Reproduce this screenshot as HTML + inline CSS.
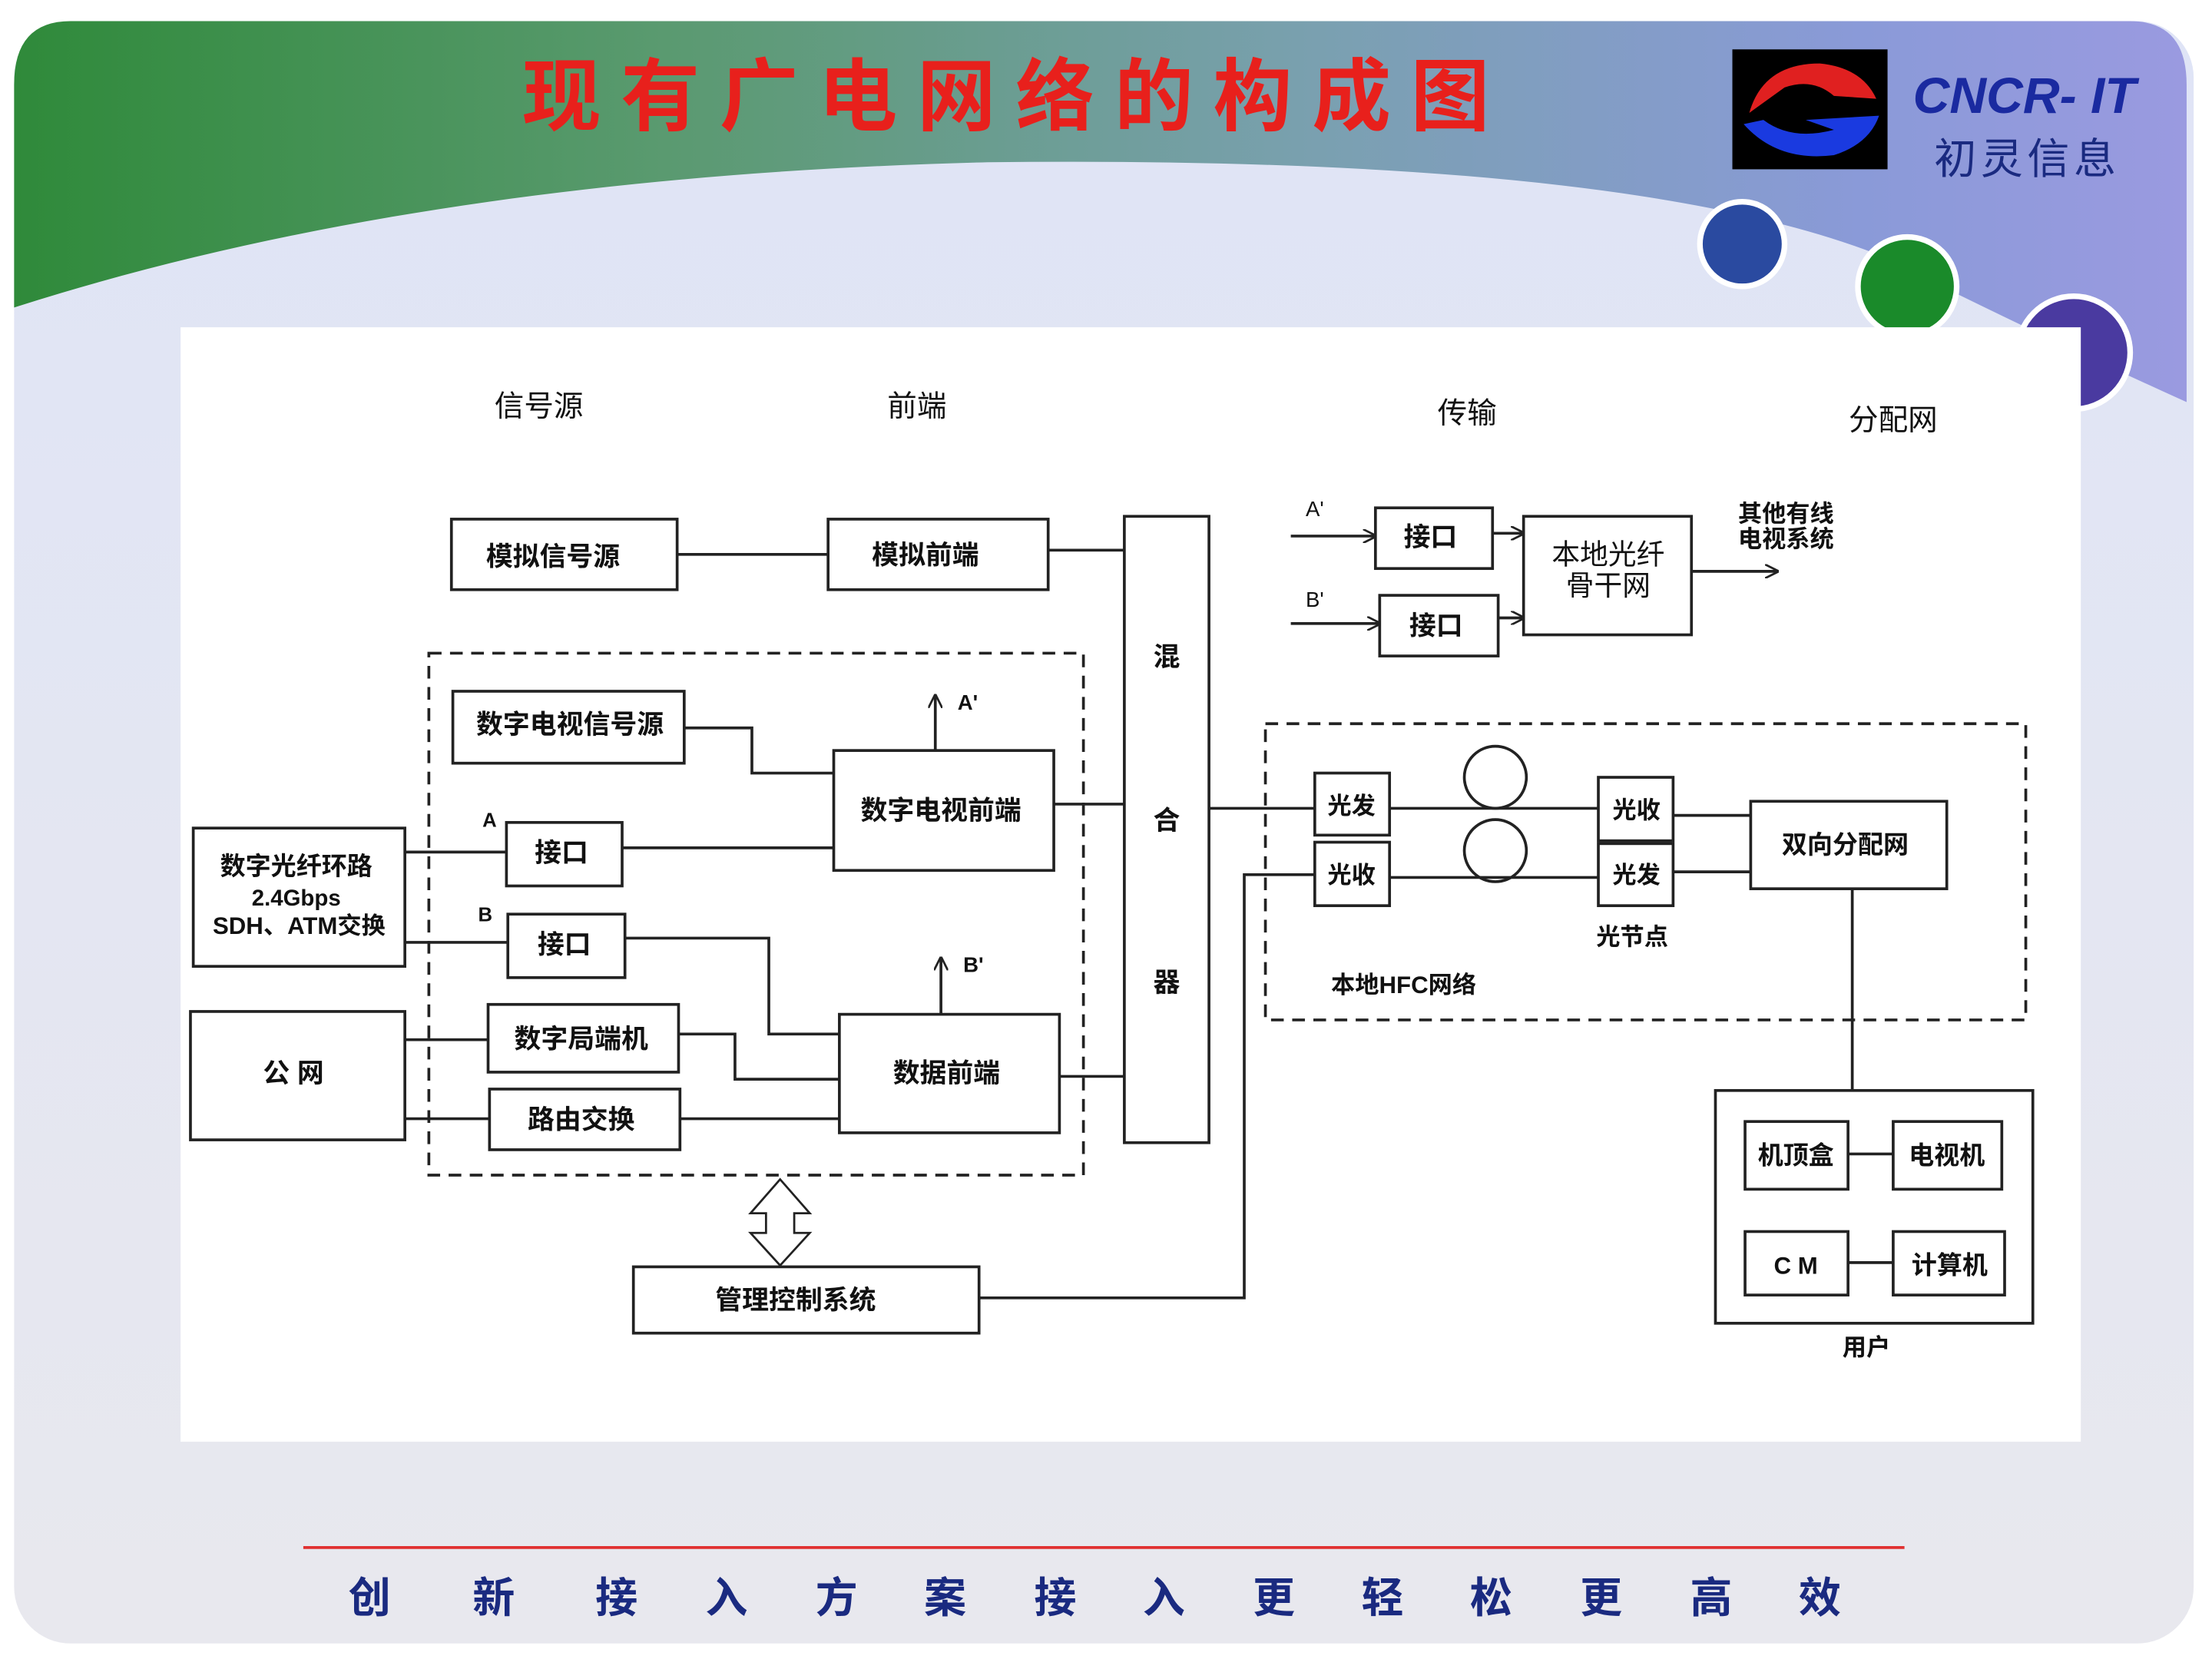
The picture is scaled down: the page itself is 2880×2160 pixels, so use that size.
<!DOCTYPE html>
<html><head><meta charset="utf-8"><style>
html,body{margin:0;padding:0;background:#fff;}
svg{display:block;}
text{font-family:"Liberation Sans","Noto Sans CJK SC",sans-serif;}
</style></head><body>
<svg width="2880" height="2160" viewBox="0 0 1568 1176" xmlns="http://www.w3.org/2000/svg">
<defs>
<linearGradient id="hdr" x1="0" y1="0" x2="1" y2="0">
<stop offset="0" stop-color="#2f8a3a"/><stop offset="0.3" stop-color="#5a9a70"/><stop offset="0.6" stop-color="#7aa0b0"/><stop offset="0.85" stop-color="#8a9ad8"/><stop offset="1" stop-color="#9a9ae0"/>
</linearGradient>
<linearGradient id="bg" x1="0" y1="0" x2="0" y2="1">
<stop offset="0" stop-color="#dfe4f6"/><stop offset="1" stop-color="#e8e8ee"/>
</linearGradient>
<marker id="ar" markerWidth="10" markerHeight="10" refX="9" refY="5" orient="auto" markerUnits="userSpaceOnUse"><path d="M0,0 L10,5 L0,10" fill="none" stroke="#222" stroke-width="1.5"/></marker>
</defs>
<rect x="10" y="15" width="1545" height="1150" rx="40" fill="url(#bg)"/>
<path d="M50,15 H1510 Q1550,15 1550,60 V285 Q1450,240 1330,180 Q1150,110 700,115 Q300,125 10,218 V60 Q10,15 50,15 Z" fill="url(#hdr)"/>
<text x="720" y="88" font-size="56" fill="#e8201c" font-weight="bold" text-anchor="middle" letter-spacing="14" font-family="Liberation Serif,Noto Serif CJK SC,serif">现有广电网络的构成图</text>
<rect x="1228" y="35" width="110" height="85" fill="#000"/>
<path d="M1240,80 Q1250,45 1290,45 Q1320,48 1330,70 L1300,68 Q1285,55 1265,62 Z" fill="#e02020"/>
<path d="M1236,88 Q1260,115 1300,110 Q1325,102 1332,82 L1280,85 L1300,92 Q1270,100 1250,85 Z" fill="#1a3ae0"/>
<text x="1435" y="80" font-size="36" fill="#1a2aa0" font-weight="bold" font-style="italic" text-anchor="middle" font-family="Liberation Serif,serif">CNCR- IT</text>
<text x="1437" y="123" font-size="30" fill="#1a2a80" text-anchor="middle" letter-spacing="3">初灵信息</text>
<circle cx="1235" cy="173" r="30" fill="#2a4aa0" stroke="#fff" stroke-width="4"/>
<circle cx="1352" cy="203" r="35" fill="#1a8a2a" stroke="#fff" stroke-width="4"/>
<circle cx="1470" cy="250" r="40" fill="#4a3aa0" stroke="#fff" stroke-width="4"/>
<rect x="128" y="232" width="1347" height="790" fill="#fff"/>
<line x1="215" y1="1097" x2="1350" y2="1097" stroke="#e03030" stroke-width="2"/>
<g font-size="30" fill="#1a2a80" font-weight="bold" text-anchor="middle">
<text x="262" y="1143">创</text><text x="350" y="1143">新</text><text x="437" y="1143">接</text><text x="515" y="1143">入</text><text x="593" y="1143">方</text><text x="670" y="1143">案</text><text x="748" y="1143">接</text><text x="825" y="1143">入</text><text x="903" y="1143">更</text><text x="980" y="1143">轻</text><text x="1057" y="1143">松</text><text x="1135" y="1143">更</text><text x="1213" y="1143">高</text><text x="1290" y="1143">效</text>
</g>
<g fill="none" stroke="#222" stroke-width="2">
<rect x="320" y="368" width="160" height="50"/><rect x="587" y="368" width="156" height="50"/>
<rect x="797" y="366" width="60" height="444"/>
<rect x="304" y="463" width="464" height="370" stroke-dasharray="9,6"/>
<rect x="321" y="490" width="164" height="51"/><rect x="591" y="532" width="156" height="85"/>
<rect x="137" y="587" width="150" height="98"/>
<rect x="359" y="583" width="82" height="45"/><rect x="360" y="648" width="83" height="45"/>
<rect x="595" y="719" width="156" height="84"/>
<rect x="135" y="717" width="152" height="91"/>
<rect x="346" y="712" width="135" height="48"/><rect x="347" y="772" width="135" height="43"/>
<rect x="449" y="898" width="245" height="47"/>
<rect x="975" y="360" width="83" height="43"/><rect x="978" y="422" width="84" height="43"/>
<rect x="1080" y="366" width="119" height="84"/>
<rect x="897" y="513" width="539" height="210" stroke-dasharray="9,6"/>
<rect x="932" y="548" width="53" height="44"/><rect x="932" y="597" width="53" height="45"/>
<rect x="1133" y="551" width="53" height="45"/><rect x="1133" y="598" width="53" height="44"/>
<circle cx="1060" cy="551" r="22"/><circle cx="1060" cy="603" r="22"/>
<rect x="1241" y="568" width="139" height="62"/>
<rect x="1216" y="773" width="225" height="165"/>
<rect x="1237" y="795" width="73" height="48"/><rect x="1342" y="795" width="77" height="48"/>
<rect x="1237" y="873" width="73" height="45"/><rect x="1342" y="873" width="79" height="45"/>
<polyline points="480,393 587,393"/><polyline points="743,390 797,390"/>
<polyline points="485,516 533,516 533,548 591,548"/>
<polyline points="747,570 797,570"/>
<polyline points="287,604 359,604"/><polyline points="441,601 591,601"/>
<polyline points="287,668 360,668"/><polyline points="443,665 545,665 545,733 595,733"/>
<polyline points="751,763 797,763"/>
<polyline points="287,737 346,737"/><polyline points="481,733 521,733 521,765 595,765"/>
<polyline points="287,793 347,793"/><polyline points="482,793 595,793"/>
<polyline points="694,920 882,920 882,620 932,620"/>
<polyline points="857,573 932,573"/>
<polyline points="985,573 1133,573"/><polyline points="985,622 1133,622"/>
<polyline points="1186,578 1241,578"/><polyline points="1186,618 1241,618"/>
<polyline points="1313,630 1313,773"/>
<polyline points="1310,818 1342,818"/><polyline points="1310,895 1342,895"/>
<line x1="663" y1="532" x2="663" y2="493" marker-end="url(#ar)"/>
<line x1="667" y1="719" x2="667" y2="679" marker-end="url(#ar)"/>
<line x1="915" y1="380" x2="975" y2="380" marker-end="url(#ar)"/>
<line x1="915" y1="442" x2="978" y2="442" marker-end="url(#ar)"/>
<line x1="1058" y1="378" x2="1080" y2="378" marker-end="url(#ar)"/>
<line x1="1062" y1="438" x2="1080" y2="438" marker-end="url(#ar)"/>
<line x1="1199" y1="405" x2="1260" y2="405" marker-end="url(#ar)"/>
<path d="M553,836 L574,860 L563,860 L563,874 L574,874 L553,897 L532,874 L543,874 L543,860 L532,860 Z" stroke-width="1.5"/>
</g>
<g font-size="19" fill="#111" font-weight="bold" text-anchor="middle">
<text x="382" y="295" font-weight="normal" font-size="21">信号源</text>
<text x="650" y="295" font-weight="normal" font-size="21">前端</text>
<text x="1040" y="300" font-weight="normal" font-size="21">传输</text>
<text x="1342" y="305" font-weight="normal" font-size="21">分配网</text>
<text x="392" y="401">模拟信号源</text><text x="656" y="400">模拟前端</text>
<text x="827" y="472">混</text><text x="827" y="588">合</text><text x="827" y="703">器</text>
<text x="404" y="520">数字电视信号源</text><text x="667" y="581">数字电视前端</text>
<text x="686" y="503" font-size="15">A'</text><text x="690" y="689" font-size="15">B'</text>
<text x="347" y="586" font-size="14">A</text><text x="344" y="653" font-size="14">B</text>
<text x="210" y="620" font-size="18">数字光纤环路</text>
<text x="210" y="642" font-size="16" font-family="Liberation Mono,monospace">2.4Gbps</text>
<text x="212" y="662" font-size="17">SDH、ATM交换</text>
<text x="398" y="611">接口</text><text x="400" y="676">接口</text>
<text x="671" y="767">数据前端</text>
<text x="208" y="767">公  网</text>
<text x="412" y="743">数字局端机</text><text x="412" y="800">路由交换</text>
<text x="564" y="928">管理控制系统</text>
<text x="932" y="366" font-size="15" font-weight="normal">A'</text><text x="932" y="430" font-size="15" font-weight="normal">B'</text>
<text x="1014" y="387">接口</text><text x="1018" y="450">接口</text>
<text x="1140" y="400" font-weight="normal" font-size="20">本地光纤</text><text x="1140" y="422" font-weight="normal" font-size="20">骨干网</text>
<text x="1266" y="370" font-size="17">其他有线</text><text x="1266" y="388" font-size="17">电视系统</text>
<text x="958" y="577" font-size="17">光发</text><text x="958" y="626" font-size="17">光收</text>
<text x="1160" y="580" font-size="17">光收</text><text x="1160" y="626" font-size="17">光发</text>
<text x="1157" y="670" font-size="17">光节点</text><text x="995" y="704" font-size="17">本地HFC网络</text>
<text x="1308" y="605" font-size="18">双向分配网</text>
<text x="1273" y="825" font-size="18">机顶盒</text><text x="1380" y="825" font-size="18">电视机</text>
<text x="1273" y="903" font-size="17">C M</text><text x="1382" y="903" font-size="18">计算机</text>
<text x="1323" y="961" font-size="17">用户</text>
</g>
</svg>
</body></html>
